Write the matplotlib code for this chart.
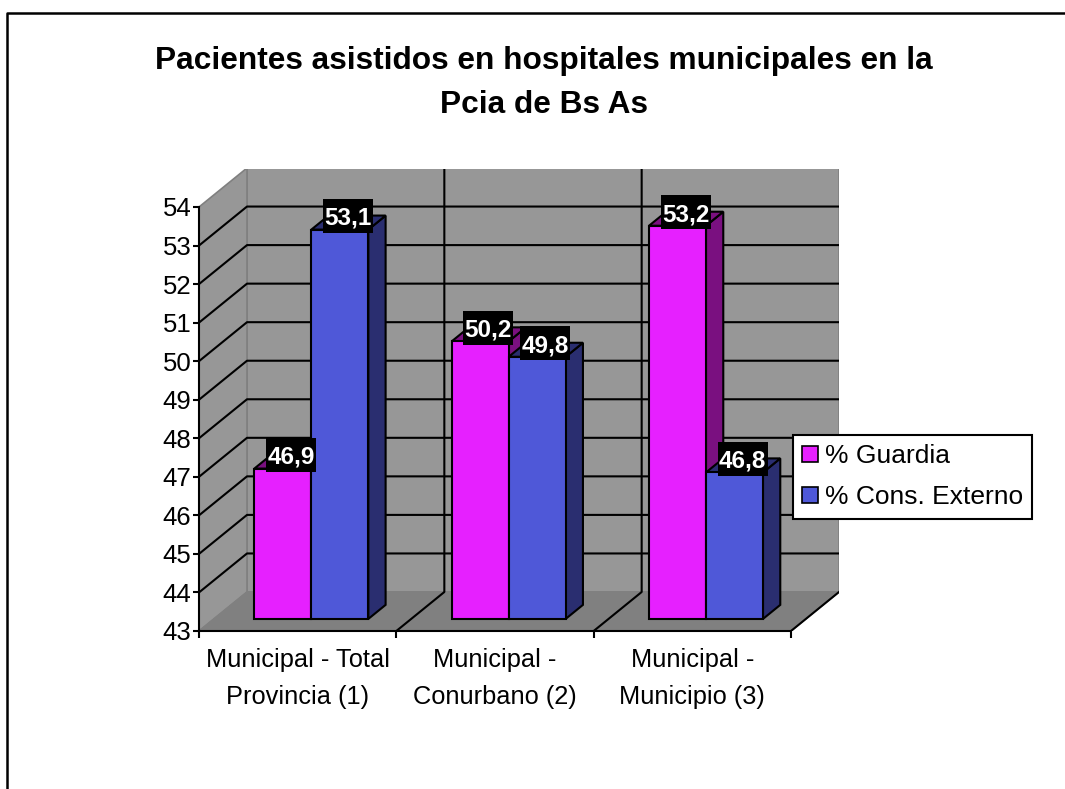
import matplotlib
matplotlib.use('Agg')
import matplotlib.pyplot as plt
from matplotlib.patches import Polygon, Patch, Rectangle
from matplotlib.lines import Line2D

plt.rcParams['font.family'] = ['Liberation Sans', 'DejaVu Sans']

title = 'Pacientes asistidos en hospitales municipales en la\nPcia de Bs As'
categories = ['Municipal - Total\nProvincia (1)', 'Municipal -\nConurbano (2)', 'Municipal -\nMunicipio (3)']
guardia = [46.9, 50.2, 53.2]
externo = [53.1, 49.8, 46.8]
value_ticks = list(range(43, 55))

W, H = 1065, 789
L, R, B, T = 199, 839, 631, 169   # plot area in pixels
ymin = 43
unit = (631 - 207) / 11           # pixels per value
ymax = ymin + (B - T) / unit
xunit = (791 - 199) / 3           # pixels per category
xmax = (R - L) / xunit
DX = 48 / xunit                   # full depth of the 3d box
DY = 39 / unit
BAR_W = 57 / xunit
BAR_X = 0.205
D0, D1 = 0.31, 0.67               # depth of bars inside the box
BOX_W, BOX_H = 50 / xunit, 34 / unit   # black box behind data labels

WALL = '#979797'
FLOOR = '#808080'
EDGE = '#000000'
MAG = ('#E620FF', '#7A1080')
BLU = ('#4F58D8', '#2A2E70')


def p(x, v, d=0.0):
    return (x + d * DX, v + d * DY)


fig = plt.figure(figsize=(W / 100, H / 100), dpi=100)
fig.patch.set_facecolor('white')
ax = fig.add_axes([L / W, 1 - B / H, (R - L) / W, (B - T) / H])
ax.set_xlim(0, xmax)
ax.set_ylim(ymin, ymax)
ax.patch.set_visible(False)
for s in ['top', 'right']:
    ax.spines[s].set_visible(False)
ax.spines['bottom'].set_bounds(0, 3)
ax.spines['left'].set_bounds(43, 54)
ax.spines['bottom'].set_linewidth(1.5)
ax.spines['left'].set_linewidth(1.5)

ax.set_yticks(value_ticks)
ax.tick_params(axis='y', labelsize=18.5, length=4, width=1.5, pad=1.5)
ax.set_xticks([0, 1, 2, 3])
ax.set_xticklabels([])
ax.tick_params(axis='x', length=5, width=1.5)
ax.set_xticks([0.5, 1.5, 2.5], minor=True)
ax.set_xticklabels(categories, minor=True, fontsize=18.3, linespacing=1.7)
ax.tick_params(axis='x', which='minor', length=0, pad=12)

# walls and floor
ax.add_patch(Polygon([p(0, 43, 1), p(3, 43, 1), p(3, 54, 1), p(0, 54, 1)],
                     fc=WALL, ec=FLOOR, lw=1.2, zorder=1))
ax.add_patch(Polygon([p(0, 43), p(0, 43, 1), p(0, 54, 1), p(0, 54)],
                     fc=WALL, ec=FLOOR, lw=1.2, zorder=1))
ax.add_patch(Polygon([p(0, 43), p(3, 43), p(3, 43, 1), p(0, 43, 1)],
                     fc=FLOOR, ec=FLOOR, lw=1, zorder=1))

# gridlines on the walls
for v in value_ticks[1:-1]:
    ax.plot(*zip(p(0, v), p(0, v, 1), p(3, v, 1)), color='black', lw=1.5, zorder=2)
for x in [1, 2]:
    ax.plot(*zip(p(x, 43), p(x, 43, 1), p(x, 54, 1)), color='black', lw=1.5, zorder=2)
ax.plot(*zip(p(3, 43), p(3, 43, 1)), color='black', lw=1.5, zorder=2)


def bar3d(x, v, cols, z):
    x2 = x + BAR_W
    side = [p(x2, 43, D0), p(x2, 43, D1), p(x2, v, D1), p(x2, v, D0)]
    top = [p(x, v, D0), p(x2, v, D0), p(x2, v, D1), p(x, v, D1)]
    front = [p(x, 43, D0), p(x2, 43, D0), p(x2, v, D0), p(x, v, D0)]
    ax.add_patch(Polygon(side, fc=cols[1], ec=EDGE, lw=1.5, zorder=z))
    ax.add_patch(Polygon(top, fc=cols[1], ec=EDGE, lw=1.5, zorder=z))
    ax.add_patch(Polygon(front, fc=cols[0], ec=EDGE, lw=1.5, zorder=z))


for i, (g, e) in enumerate(zip(guardia, externo)):
    x0 = i + BAR_X
    bar3d(x0, g, MAG, 3 + i)
    bar3d(x0 + BAR_W, e, BLU, 3.5 + i)

# data labels go on top of everything
for i, (g, e) in enumerate(zip(guardia, externo)):
    for j, v in enumerate((g, e)):
        x, y = p(i + BAR_X + (j + 0.5) * BAR_W, v, 0.48)
        y = y + 7 / unit
        ax.add_patch(Rectangle((x - BOX_W / 2, y - BOX_H / 2), BOX_W, BOX_H,
                               fc='black', ec='none', zorder=10))
        ax.text(x, y, f'{v:.1f}'.replace('.', ','), ha='center', va='center_baseline',
                color='white', fontsize=17.5, fontweight='bold', zorder=11)

handles = [Patch(fc=MAG[0], ec='black', lw=1.2, label='% Guardia'),
           Patch(fc=BLU[0], ec='black', lw=1.2, label='% Cons. Externo')]
leg = fig.legend(handles=handles, loc='upper left', bbox_to_anchor=(793 / W, 1 - 435 / H),
                 fontsize=19, fancybox=False, framealpha=1, edgecolor='black',
                 handlelength=0.6, handleheight=0.6, handletextpad=0.25,
                 borderpad=0.35, labelspacing=0.65, borderaxespad=0)
leg.get_frame().set_linewidth(1.5)
leg.set_zorder(20)

fig.text(543.5 / W, 1 - 83 / H, title, ha='center', va='center', fontsize=22.75,
         fontweight='bold', linespacing=1.65)

# outer chart frame, only top and left are inside the picture
fig.add_artist(Line2D([7 / W, 7 / W, 1], [0, 1 - 13 / H, 1 - 13 / H], color='black', lw=1.8))

fig.savefig('out.png', dpi=100)
